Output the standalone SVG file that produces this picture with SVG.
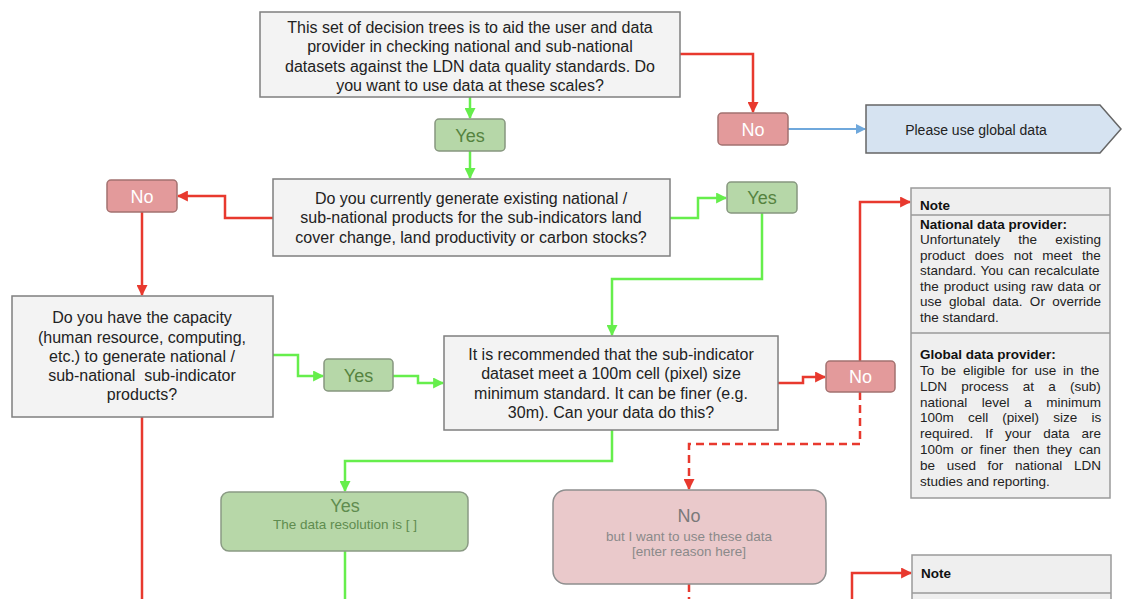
<svg xmlns="http://www.w3.org/2000/svg" width="1122" height="599" viewBox="0 0 1122 599">
<style>
text{font-family:"Liberation Sans",Arial,sans-serif;}
.q{fill:#f3f3f3;stroke:#7f7f7f;stroke-width:1.5;}
.qt{font-size:16px;fill:#222;text-anchor:middle;}
.ys{fill:#b6d7a8;stroke:#87977f;stroke-width:1.5;}
.yt{font-size:18px;fill:#55833f;text-anchor:middle;}
.ns{fill:#e39a9b;stroke:#a37270;stroke-width:1.5;}
.nt{font-size:18px;fill:#ffffff;text-anchor:middle;}
.g{fill:none;stroke:#66ee4c;stroke-width:2.5;}
.r{fill:none;stroke:#e8392e;stroke-width:2.5;}
.rd{fill:none;stroke:#e8392e;stroke-width:2.5;stroke-dasharray:8 5;}
.b{fill:none;stroke:#6fa8dc;stroke-width:2;}
.note{fill:#efefef;stroke:#9a9a9a;stroke-width:1.5;}
.nl{stroke:#9a9a9a;stroke-width:1.5;}
.ntx{font-size:13.5px;fill:#222;}
.nb{font-size:13.5px;fill:#111;font-weight:bold;}
</style>
<defs>
<marker id="ag" viewBox="0 0 10 10" refX="9" refY="5" markerWidth="4.4" markerHeight="4.4" orient="auto" markerUnits="strokeWidth"><path d="M0,0 L10,5 L0,10 z" fill="#66ee4c"/></marker>
<marker id="ar" viewBox="0 0 10 10" refX="9" refY="5" markerWidth="4.4" markerHeight="4.4" orient="auto" markerUnits="strokeWidth"><path d="M0,0 L10,5 L0,10 z" fill="#e8392e"/></marker>
<marker id="ab" viewBox="0 0 10 10" refX="9" refY="5" markerWidth="5" markerHeight="5" orient="auto" markerUnits="strokeWidth"><path d="M0,0 L10,5 L0,10 z" fill="#6fa8dc"/></marker>
</defs>
<rect width="1122" height="599" fill="#ffffff"/>

<g id="connectors">
<path class="g" d="M470,97 V118" marker-end="url(#ag)"/>
<path class="g" d="M470,151 V178" marker-end="url(#ag)"/>
<path class="r" d="M680,54 H753 V112" marker-end="url(#ar)"/>
<path class="b" d="M788,129 H865" marker-end="url(#ab)"/>
<path class="r" d="M273,218 H225 V196 H178" marker-end="url(#ar)"/>
<path class="r" d="M142,212 V295" marker-end="url(#ar)"/>
<path class="r" d="M142,417 V599"/>
<path class="g" d="M273,355 H298 V376 H323" marker-end="url(#ag)"/>
<path class="g" d="M393,376 H418 V383 H443" marker-end="url(#ag)"/>
<path class="g" d="M670,218 H698 V198 H726" marker-end="url(#ag)"/>
<path class="g" d="M762,213 V279 H612 V335" marker-end="url(#ag)"/>
<path class="r" d="M778,383 H803 V377 H825" marker-end="url(#ar)"/>
<path class="r" d="M860,361 V202 H910" marker-end="url(#ar)"/>
<path class="rd" d="M860,392 V444 H689 V489" marker-end="url(#ar)"/>
<path class="g" d="M612,430 V461 H345 V491" marker-end="url(#ag)"/>
<path class="g" d="M345,551 V599"/>
<path class="rd" d="M689,584 V599"/>
<path class="r" d="M852,599 V573 H911" marker-end="url(#ar)"/>
</g>

<g id="q1">
<rect class="q" x="260" y="12" width="420" height="85"/>
<text class="qt" x="470" y="33">This set of decision trees is to aid the user and data</text>
<text class="qt" x="470" y="52">provider in checking national and sub-national</text>
<text class="qt" x="470" y="72">datasets against the LDN data quality standards. Do</text>
<text class="qt" x="470" y="91">you want to use data at these scales?</text>
</g>

<g id="yes1">
<rect class="ys" x="435" y="119" width="70" height="32" rx="4"/>
<text class="yt" x="470" y="142">Yes</text>
</g>

<g id="no1">
<rect class="ns" x="718" y="113" width="70" height="32" rx="4"/>
<text class="nt" x="753" y="136">No</text>
</g>

<g id="global">
<path d="M866,105 H1100 L1121,129 L1100,153 H866 Z" fill="#d6e3f1" stroke="#666" stroke-width="1.5"/>
<text x="976" y="135" font-size="14" fill="#222" text-anchor="middle">Please use global data</text>
</g>

<g id="q2">
<rect class="q" x="273" y="179" width="397" height="77"/>
<text class="qt" x="471" y="204">Do you currently generate existing national /</text>
<text class="qt" x="471" y="223">sub-national products for the sub-indicators land</text>
<text class="qt" x="471" y="243">cover change, land productivity or carbon stocks?</text>
</g>

<g id="no2">
<rect class="ns" x="107" y="180" width="70" height="32" rx="4"/>
<text class="nt" x="142" y="203">No</text>
</g>

<g id="yes2">
<rect class="ys" x="727" y="182" width="70" height="31" rx="4"/>
<text class="yt" x="762" y="204">Yes</text>
</g>

<g id="q3">
<rect class="q" x="12" y="296" width="261" height="121"/>
<text class="qt" x="142" y="323">Do you have the capacity</text>
<text class="qt" x="142" y="343">(human resource, computing,</text>
<text class="qt" x="142" y="362">etc.) to generate national /</text>
<text class="qt" x="142" y="381" xml:space="preserve">sub-national  sub-indicator</text>
<text class="qt" x="142" y="400">products?</text>
</g>

<g id="yes3">
<rect class="ys" x="324" y="359" width="69" height="32" rx="4"/>
<text class="yt" x="358.5" y="382">Yes</text>
</g>

<g id="q4">
<rect class="q" x="444" y="336" width="334" height="94"/>
<text class="qt" x="611" y="360">It is recommended that the sub-indicator</text>
<text class="qt" x="611" y="379">dataset meet a 100m cell (pixel) size</text>
<text class="qt" x="611" y="399">minimum standard. It can be finer (e.g.</text>
<text class="qt" x="611" y="418">30m). Can your data do this?</text>
</g>

<g id="no3">
<rect class="ns" x="826" y="361" width="69" height="31" rx="4"/>
<text class="nt" x="860.5" y="383">No</text>
</g>

<g id="yes4">
<rect x="221" y="492" width="247" height="59" rx="8" fill="#b7d7a8" stroke="#8a9a84" stroke-width="1.5"/>
<text x="345" y="512" font-size="18" fill="#5f8c4f" text-anchor="middle">Yes</text>
<text x="345" y="529" font-size="13.5" fill="#5f8c4f" text-anchor="middle">The data resolution is [ ]</text>
</g>

<g id="no4">
<rect x="553" y="490" width="273" height="94" rx="13" fill="#eac9cb" stroke="#8f8f8f" stroke-width="1.5"/>
<text x="689" y="522" font-size="18" fill="#7a7a7a" text-anchor="middle">No</text>
<text x="689" y="541" font-size="13.5" fill="#8a8a8a" text-anchor="middle">but I want to use these data</text>
<text x="689" y="556" font-size="13.5" fill="#8a8a8a" text-anchor="middle">[enter reason here]</text>
</g>

<g id="note1">
<rect class="note" x="911" y="188" width="199" height="310"/>
<line class="nl" x1="911" y1="215" x2="1110" y2="215"/>
<line class="nl" x1="911" y1="333" x2="1110" y2="333"/>
<text class="nb" x="920" y="210">Note</text>
<text class="nb" x="920" y="229">National data provider:</text>
<text class="ntx" x="920" y="244" word-spacing="14.3">Unfortunately the existing</text>
<text class="ntx" x="920" y="260" word-spacing="6">product does not meet the</text>
<text class="ntx" x="920" y="275" word-spacing="0.8">standard. You can recalculate</text>
<text class="ntx" x="920" y="291" word-spacing="1.2">the product using raw data or</text>
<text class="ntx" x="920" y="306" word-spacing="3.6">use global data. Or override</text>
<text class="ntx" x="920" y="322">the standard.</text>
<text class="nb" x="920" y="359">Global data provider:</text>
<text class="ntx" x="920" y="375" word-spacing="3.1">To be eligible for use in the</text>
<text class="ntx" x="920" y="391" word-spacing="10.5">LDN process at a (sub)</text>
<text class="ntx" x="920" y="407" word-spacing="10.8">national level a minimum</text>
<text class="ntx" x="920" y="422" word-spacing="10.4">100m cell (pixel) size is</text>
<text class="ntx" x="920" y="438" word-spacing="8.3">required. If your data are</text>
<text class="ntx" x="920" y="454" word-spacing="3.3">100m or finer then they can</text>
<text class="ntx" x="920" y="470" word-spacing="7.9">be used for national LDN</text>
<text class="ntx" x="920" y="486">studies and reporting.</text>
</g>

<g id="note2">
<rect class="note" x="912" y="555" width="199" height="60"/>
<line class="nl" x1="912" y1="593" x2="1111" y2="593"/>
<text class="nb" x="921" y="578">Note</text>
</g>
</svg>
